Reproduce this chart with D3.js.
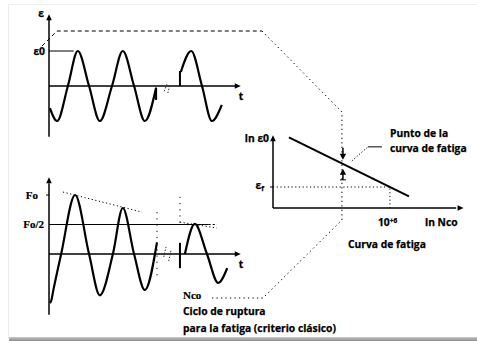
<!DOCTYPE html>
<html>
<head>
<meta charset="utf-8">
<script src="https://cdn.jsdelivr.net/npm/d3@7"></script>
<style>
  html, body { margin: 0; padding: 0; background: #fff; }
  svg { display: block; }
  .lbl { font-family: "Open Sans", Lato, sans-serif; font-weight: 700; font-size: 10.3px; fill: #000; stroke: #000; stroke-width: 0.25px; }
  .ser { font-family: "Liberation Serif", "DejaVu Serif", serif; font-weight: bold; font-size: 11px; fill: #000; stroke: #000; stroke-width: 0.2px; }
</style>
</head>
<body>
<script>
// Strain-controlled signal: [time in cycles, strain / ε0]
const strainRun1 = [[0.02,-0.63],[0.18,-1],[0.42,0],[0.64,1],[0.89,0],[1.13,-1],[1.40,0],[1.64,1],[1.89,0],[2.13,-1],[2.38,-0.05]];
const strainRun2 = [[2.93,0.4],[3.16,1],[3.40,0],[3.62,-1],[3.84,-0.54]];

// Resulting force: [time in cycles, force / Fo]
const forceRun1 = [[0.02,-0.83],[0.05,-0.79],[0.10,-0.6],[0.27,0],[0.58,1],[0.89,0],[1.13,-0.70],[1.42,0],[1.64,0.78],[1.89,0],[2.13,-0.61],[2.40,0.2]];
const forceRun2 = [[3.02,0],[3.24,0.51],[3.51,0],[3.76,-0.49],[3.96,-0.24]];
const forceEnvelope1 = [[0.31,1.05],[2.07,0.71]];
const forceEnvelope2 = [[2.91,0.54],[3.73,0.44]];

// Fatigue curve in (ln Nco, ln ε0) units
const fatigueCurve = [[0.86,10.1],[7.35,1.67]];
const epsF = 3.0;          // ε_f level
const lnN6 = 6.32;         // 10^+6 cycles
const lnNpoint = 3.78;     // marked point on the curve

const topLabels = { axis: "ε", level: "ε0", time: "t" };
const botLabels = { peak: "Fo", half: "Fo/2", time: "t" };

const W = 477, H = 341;
const svg = d3.select("body").append("svg").attr("width", W).attr("height", H);

// card with soft shadow
svg.append("rect").attr("x", 0).attr("y", 0).attr("width", W).attr("height", H).attr("fill", "#fff");
const grad = svg.append("defs").append("linearGradient").attr("id", "shade").attr("x1", 0).attr("y1", 0).attr("x2", 0).attr("y2", 1);
grad.append("stop").attr("offset", "0%").attr("stop-color", "#c8c8c8");
grad.append("stop").attr("offset", "100%").attr("stop-color", "#8c8c8c");
svg.append("rect").attr("x", 9).attr("y", 337).attr("width", W - 9).attr("height", 4).attr("fill", "url(#shade)");
svg.append("line").attr("x1", 8.5).attr("y1", 4).attr("x2", 8.5).attr("y2", 338).attr("stroke", "#ececec");
svg.append("line").attr("x1", 8).attr("y1", 4.5).attr("x2", W).attr("y2", 4.5).attr("stroke", "#f0f0f0");

function arrowHead(g, x, y, dir, size = 6, half = 2.8) {
  let pts;
  if (dir === "up") pts = [[x, y], [x - half, y + size], [x + half, y + size]];
  else if (dir === "down") pts = [[x, y], [x - half, y - size], [x + half, y - size]];
  else pts = [[x, y], [x - size, y - half], [x - size, y + half]];
  g.append("path").attr("d", "M" + pts.map(p => p.join(",")).join("L") + "Z").attr("fill", "#000");
}

const line = (xs, ys) => d3.line().x(d => xs(d[0])).y(d => ys(d[1])).curve(d3.curveMonotoneX);
const straight = (xs, ys) => d3.line().x(d => xs(d[0])).y(d => ys(d[1]));

// ---------- top panel: strain ----------
const xT = d3.scaleLinear().domain([0, 4.1]).range([49, 233.5]);
const yT = d3.scaleLinear().domain([-1, 1]).range([121, 51]);
const gT = svg.append("g");
gT.append("line").attr("x1", xT(0)).attr("x2", xT(0)).attr("y1", yT(-1.45)).attr("y2", yT(2.0)).attr("stroke", "#000").attr("stroke-width", 1.5);
arrowHead(gT, xT(0), yT(2.05), "up");
gT.append("line").attr("x1", xT(0)).attr("x2", xT(4.15)).attr("y1", yT(0)).attr("y2", yT(0)).attr("stroke", "#000").attr("stroke-width", 1.5);
arrowHead(gT, xT(4.15) + 5, yT(0), "right");
gT.append("line").attr("x1", xT(0)).attr("x2", xT(0.55)).attr("y1", yT(1)).attr("y2", yT(1)).attr("stroke", "#000").attr("stroke-width", 1);
gT.append("path").attr("d", line(xT, yT)(strainRun1)).attr("fill", "none").attr("stroke", "#000").attr("stroke-width", 2.2);
gT.append("path").attr("d", line(xT, yT)(strainRun2)).attr("fill", "none").attr("stroke", "#000").attr("stroke-width", 2.2);
gT.append("path").attr("d", straight(xT, yT)([[2.38, -0.05], [2.38, -0.4]])).attr("stroke", "#000").attr("stroke-width", 2);
gT.append("path").attr("d", straight(xT, yT)([[2.91, 0], [2.91, 0.4], [2.93, 0.4]])).attr("fill", "none").attr("stroke", "#000").attr("stroke-width", 2);
// break marks
gT.append("path").attr("d", straight(xT, yT)([[2.56, -0.15], [2.62, 0.05]])).attr("stroke", "#333").attr("stroke-width", 1).attr("stroke-dasharray", "1.5,1.5");
gT.append("path").attr("d", straight(xT, yT)([[2.64, -0.2], [2.68, 0.0]])).attr("stroke", "#333").attr("stroke-width", 1).attr("stroke-dasharray", "1.5,1.5");
gT.append("text").attr("class", "lbl").attr("x", xT(0) - 5).attr("y", yT(2.05) + 3).attr("text-anchor", "end").text(topLabels.axis);
gT.append("text").attr("class", "lbl").attr("x", xT(0) - 4).attr("y", yT(1) + 3.5).attr("text-anchor", "end").text(topLabels.level);
gT.append("text").attr("class", "lbl").attr("x", xT(4.15) + 3).attr("y", yT(0) + 14).text(topLabels.time);

// ---------- bottom panel: force ----------
const xB = xT;
const yB = d3.scaleLinear().domain([-1, 1]).range([313, 195]);
const gB = svg.append("g");
gB.append("line").attr("x1", xB(0)).attr("x2", xB(0)).attr("y1", yB(-1.03)).attr("y2", yB(1.2)).attr("stroke", "#000").attr("stroke-width", 1.5);
arrowHead(gB, xB(0), yB(1.3), "up");
gB.append("line").attr("x1", xB(0)).attr("x2", xB(4.15)).attr("y1", yB(0)).attr("y2", yB(0)).attr("stroke", "#000").attr("stroke-width", 1.5);
arrowHead(gB, xB(4.15) + 5, yB(0), "right");
gB.append("line").attr("x1", xB(0)).attr("x2", xB(3.55)).attr("y1", yB(0.5)).attr("y2", yB(0.5)).attr("stroke", "#000").attr("stroke-width", 1);
gB.append("line").attr("x1", xB(3.55)).attr("x2", xB(3.73)).attr("y1", yB(0.5)).attr("y2", yB(0.5)).attr("stroke", "#000").attr("stroke-width", 1).attr("stroke-dasharray", "2,2");
gB.append("line").attr("x1", xB(0) - 3).attr("x2", xB(0)).attr("y1", yB(1)).attr("y2", yB(1)).attr("stroke", "#000").attr("stroke-width", 1);
gB.append("path").attr("d", straight(xB, yB)(forceEnvelope1)).attr("stroke", "#000").attr("stroke-width", 1).attr("stroke-dasharray", "1.2,2.5");
gB.append("path").attr("d", straight(xB, yB)(forceEnvelope2)).attr("stroke", "#000").attr("stroke-width", 1).attr("stroke-dasharray", "1.2,2.5");
gB.append("path").attr("d", line(xB, yB)(forceRun1)).attr("fill", "none").attr("stroke", "#000").attr("stroke-width", 2.2);
gB.append("path").attr("d", line(xB, yB)(forceRun2)).attr("fill", "none").attr("stroke", "#000").attr("stroke-width", 2.2);
gB.append("path").attr("d", straight(xB, yB)([[2.91, 0.19], [2.91, -0.24]])).attr("stroke", "#000").attr("stroke-width", 2);
gB.append("path").attr("d", straight(xB, yB)([[2.40, 0.71], [2.40, -0.38]])).attr("stroke", "#000").attr("stroke-width", 1).attr("stroke-dasharray", "1.2,5");
gB.append("path").attr("d", straight(xB, yB)([[2.91, 0.97], [2.91, 0.5]])).attr("stroke", "#000").attr("stroke-width", 1).attr("stroke-dasharray", "1.2,5");
gB.append("path").attr("d", straight(xB, yB)([[2.55, -0.05], [2.6, 0.12]])).attr("stroke", "#333").attr("stroke-width", 1).attr("stroke-dasharray", "1.5,1.5");
gB.append("path").attr("d", straight(xB, yB)([[2.66, -0.12], [2.71, 0.06]])).attr("stroke", "#333").attr("stroke-width", 1).attr("stroke-dasharray", "1.5,1.5");
gB.append("text").attr("class", "ser").attr("x", xB(0) - 11).attr("y", yB(1) + 3.5).attr("text-anchor", "end").text(botLabels.peak);
gB.append("text").attr("class", "ser").attr("x", xB(0) - 5).attr("y", yB(0.5) + 3.5).attr("text-anchor", "end").text(botLabels.half);
gB.append("text").attr("class", "lbl").attr("x", xB(4.15) + 3).attr("y", yB(0) + 14).text(botLabels.time);

// ---------- right panel: fatigue curve ----------
const xR = d3.scaleLinear().domain([0, 10]).range([273, 458]);
const yR = d3.scaleLinear().domain([0, 10]).range([208, 138]);
const gR = svg.append("g");
gR.append("line").attr("x1", xR(0)).attr("x2", xR(0)).attr("y1", yR(0)).attr("y2", yR(9.9)).attr("stroke", "#000").attr("stroke-width", 1.5);
arrowHead(gR, xR(0), yR(10.4), "up");
gR.append("line").attr("x1", xR(0)).attr("x2", xR(9.9)).attr("y1", yR(0)).attr("y2", yR(0)).attr("stroke", "#000").attr("stroke-width", 1.5);
arrowHead(gR, xR(10.3), yR(0), "right");
gR.append("line").attr("x1", xR(0) - 3).attr("x2", xR(0)).attr("y1", yR(epsF)).attr("y2", yR(epsF)).attr("stroke", "#000").attr("stroke-width", 1);
gR.append("path").attr("d", straight(xR, yR)([[0, epsF], [lnN6, epsF], [lnN6, 0]])).attr("fill", "none").attr("stroke", "#000").attr("stroke-width", 1).attr("stroke-dasharray", "1.2,2.5");
gR.append("path").attr("d", straight(xR, yR)(fatigueCurve)).attr("stroke", "#000").attr("stroke-width", 2);
gR.append("text").attr("class", "lbl").attr("x", xR(0) - 4).attr("y", yR(10) + 4).attr("text-anchor", "end").text("ln ε0");
const ef = gR.append("text").attr("class", "lbl").attr("x", xR(0) - 9).attr("y", yR(epsF) + 2).attr("text-anchor", "end");
ef.append("tspan").text("ε");
ef.append("tspan").attr("font-size", 7).attr("dy", 2).text("f");
const ten = gR.append("text").attr("class", "lbl").attr("x", xR(lnN6) - 12).attr("y", yR(0) + 18);
ten.append("tspan").text("10");
ten.append("tspan").attr("font-size", 6.5).attr("dy", -3.5).text("+6");
gR.append("text").attr("class", "lbl").attr("x", 425).attr("y", yR(0) + 18).text("ln Nco");
gR.append("text").attr("class", "lbl").attr("x", 348).attr("y", 248).text("Curva de fatiga");

// marked point on the fatigue curve
const pY = yR(fatigueCurve[0][1] + (lnNpoint - fatigueCurve[0][0]) * (fatigueCurve[1][1] - fatigueCurve[0][1]) / (fatigueCurve[1][0] - fatigueCurve[0][0]));
const px = xR(lnNpoint);
gR.append("line").attr("x1", px).attr("x2", px).attr("y1", pY - 16).attr("y2", pY - 9).attr("stroke", "#000").attr("stroke-width", 1.5);
arrowHead(gR, px, pY - 4, "down", 6, 3.2);
gR.append("line").attr("x1", px).attr("x2", px).attr("y1", pY + 16).attr("y2", pY + 9).attr("stroke", "#000").attr("stroke-width", 1.5);
arrowHead(gR, px, pY + 5, "up", 6, 3.2);
gR.append("line").attr("x1", px - 3).attr("x2", px + 3).attr("y1", pY + 16).attr("y2", pY + 16).attr("stroke", "#000").attr("stroke-width", 1);
gR.append("path").attr("d", `M${px + 9},${pY - 3}L${px + 25},${pY - 17}`).attr("stroke", "#000").attr("stroke-width", 1).attr("stroke-dasharray", "1.2,2");
gR.append("path").attr("d", `M${px + 25},${pY - 17}L${px + 39},${pY - 17}`).attr("stroke", "#000").attr("stroke-width", 1);
gR.append("text").attr("class", "lbl").attr("x", 390).attr("y", 137).text("Punto de la");
gR.append("text").attr("class", "lbl").attr("x", 390).attr("y", 152).text("curva de fatiga");

// ---------- zoom guide linking the panels ----------
const guideTop = 31, guideBottom = 298;
const g = svg.append("g").attr("fill", "none").attr("stroke", "#000").attr("stroke-width", 1);
g.append("path").attr("d", `M42,46L57,${guideTop}L262,${guideTop}`).attr("stroke-dasharray", "4,3");
g.append("path").attr("d", `M262,${guideTop}L${px - 1},112L${px - 1},220L263,${guideBottom}L212,${guideBottom}`).attr("stroke-dasharray", "1.3,3.2");

// ---------- notes ----------
svg.append("text").attr("class", "ser").attr("x", 183).attr("y", 299).text("Nco");
svg.append("text").attr("class", "lbl").attr("x", 183).attr("y", 315).text("Ciclo de ruptura");
svg.append("text").attr("class", "lbl").attr("x", 183).attr("y", 332).text("para la fatiga (criterio clásico)");
</script>
</body>
</html>
